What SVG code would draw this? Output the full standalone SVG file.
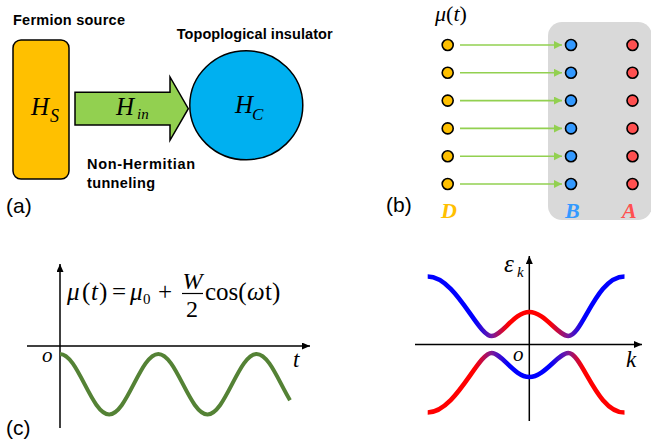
<svg xmlns="http://www.w3.org/2000/svg" width="651" height="447" viewBox="0 0 651 447">
<style>
.lbl{font-family:"Liberation Sans",Arial,sans-serif;font-weight:bold;font-size:14.5px;fill:#000}
.pan{font-family:"Liberation Sans",Arial,sans-serif;font-size:21px;fill:#000}
.m{font-family:"Liberation Serif","Times New Roman",serif;fill:#000}
.it{font-style:italic}
.ax{stroke:#000;stroke-width:1.5;fill:none}
.dot{stroke:#000;stroke-width:1.6}
.tun{stroke:#92D050;stroke-width:1.6;fill:none}
.band{fill:none;stroke-width:4.6}
.sl{font-family:"Liberation Serif","Times New Roman",serif;font-style:italic;font-weight:bold;font-size:22px}
</style>
<defs>
<marker id="ga" markerUnits="userSpaceOnUse" markerWidth="9" markerHeight="9" refX="8" refY="4" orient="auto">
<path d="M0,0 L8,4 L0,8 z" fill="#92D050"/>
</marker>
<marker id="ka" markerUnits="userSpaceOnUse" markerWidth="9" markerHeight="8" refX="8" refY="3.5" orient="auto">
<path d="M0,0 L8,3.5 L0,7 z" fill="#000"/>
</marker>
<linearGradient id="gUp" gradientUnits="userSpaceOnUse" x1="427" y1="0" x2="625" y2="0">
<stop offset="0" stop-color="#0000FF"/>
<stop offset="0.24" stop-color="#0000FF"/>
<stop offset="0.33" stop-color="#7A1A9A"/>
<stop offset="0.41" stop-color="#FF0000"/>
<stop offset="0.62" stop-color="#FF0000"/>
<stop offset="0.71" stop-color="#7A1A9A"/>
<stop offset="0.79" stop-color="#0000FF"/>
<stop offset="1" stop-color="#0000FF"/>
</linearGradient>
<linearGradient id="gDn" gradientUnits="userSpaceOnUse" x1="427" y1="0" x2="625" y2="0">
<stop offset="0" stop-color="#FF0000"/>
<stop offset="0.24" stop-color="#FF0000"/>
<stop offset="0.33" stop-color="#7A1A9A"/>
<stop offset="0.41" stop-color="#0000FF"/>
<stop offset="0.62" stop-color="#0000FF"/>
<stop offset="0.71" stop-color="#7A1A9A"/>
<stop offset="0.79" stop-color="#FF0000"/>
<stop offset="1" stop-color="#FF0000"/>
</linearGradient>
</defs>

<!-- Panel (a) -->
<g id="fermion-source">
<rect x="13" y="40" width="56" height="139" rx="8" fill="#FFC000" stroke="#000" stroke-width="1.5"/>
<text class="m it" x="31" y="115" font-size="25">H</text>
<text class="m it" x="50" y="121.5" font-size="18">S</text>
<text class="lbl" x="13" y="25" textLength="112">Fermion source</text>
</g>
<g id="tunneling">
<polygon points="75,92.3 170,92.3 170,77 188.3,108.7 170,140.3 170,125 75,125" fill="#92D050" stroke="#000" stroke-width="1.5"/>
<text class="m it" x="116" y="115" font-size="25">H</text>
<text class="m it" x="137" y="119" font-size="15">in</text>
<text class="lbl" x="87" y="169" textLength="108">Non-Hermitian</text>
<text class="lbl" x="87" y="187.5" textLength="68">tunneling</text>
</g>
<g id="insulator">
<ellipse cx="246.3" cy="105.3" rx="56.5" ry="54.5" fill="#00B0F0" stroke="#000" stroke-width="1.5"/>
<text class="m it" x="235" y="113" font-size="25">H</text>
<text class="m it" x="252" y="120" font-size="17">C</text>
<text class="lbl" x="176.7" y="39" textLength="156">Topoplogical insulator</text>
</g>
<text class="pan" x="6" y="213">(a)</text>

<!-- Panel (b) -->
<g id="lattice-box">
<rect x="548" y="22" width="104" height="198" rx="14" fill="#D9D9D9"/>
</g>
<text class="m" x="435" y="21" font-size="22"><tspan class="it">μ</tspan>(<tspan class="it">t</tspan>)</text>
<g id="connectors">
<line class="tun" x1="460" y1="45" x2="562" y2="45" marker-end="url(#ga)"/>
<line class="tun" x1="460" y1="72.8" x2="562" y2="72.8" marker-end="url(#ga)"/>
<line class="tun" x1="460" y1="100.6" x2="562" y2="100.6" marker-end="url(#ga)"/>
<line class="tun" x1="460" y1="128.4" x2="562" y2="128.4" marker-end="url(#ga)"/>
<line class="tun" x1="460" y1="156.2" x2="562" y2="156.2" marker-end="url(#ga)"/>
<line class="tun" x1="460" y1="184" x2="562" y2="184" marker-end="url(#ga)"/>
</g>
<g id="sites-D" fill="#FFC000">
<circle class="dot" cx="447.7" cy="45" r="5.5"/>
<circle class="dot" cx="447.7" cy="72.8" r="5.5"/>
<circle class="dot" cx="447.7" cy="100.6" r="5.5"/>
<circle class="dot" cx="447.7" cy="128.4" r="5.5"/>
<circle class="dot" cx="447.7" cy="156.2" r="5.5"/>
<circle class="dot" cx="447.7" cy="184" r="5.5"/>
<text class="sl" x="441" y="218" style="fill:#FFC000">D</text>
</g>
<g id="sites-B" fill="#3399FF">
<circle class="dot" cx="571" cy="45" r="5.5"/>
<circle class="dot" cx="571" cy="72.8" r="5.5"/>
<circle class="dot" cx="571" cy="100.6" r="5.5"/>
<circle class="dot" cx="571" cy="128.4" r="5.5"/>
<circle class="dot" cx="571" cy="156.2" r="5.5"/>
<circle class="dot" cx="571" cy="184" r="5.5"/>
<text class="sl" x="565" y="218" style="fill:#3399FF">B</text>
</g>
<g id="sites-A" fill="#FF5050">
<circle class="dot" cx="632.5" cy="45" r="5.5"/>
<circle class="dot" cx="632.5" cy="72.8" r="5.5"/>
<circle class="dot" cx="632.5" cy="100.6" r="5.5"/>
<circle class="dot" cx="632.5" cy="128.4" r="5.5"/>
<circle class="dot" cx="632.5" cy="156.2" r="5.5"/>
<circle class="dot" cx="632.5" cy="184" r="5.5"/>
<text class="sl" x="622" y="218" style="fill:#FF5050">A</text>
</g>
<text class="pan" x="386" y="212">(b)</text>

<!-- Panel (c) -->
<g id="plot-c">
<line class="ax" x1="60" y1="428" x2="60" y2="264" marker-end="url(#ka)"/>
<line class="ax" x1="27" y1="346" x2="310" y2="346" marker-end="url(#ka)"/>
<path d="M60,354 C77.87,354 91.3,414.4 109.17,414.4 C127.04,414.4 140.46,354 158.33,354 C176.2,354 189.63,414.4 207.5,414.4 C225.37,414.4 238.8,354 256.67,354 C268.91,354 279.06,382.34 289.99,400.2" fill="none" stroke="#548235" stroke-width="4"/>
<text class="m it" x="42" y="362" font-size="21">o</text>
<text class="m it" x="293" y="367" font-size="23">t</text>
<text class="m it" x="67" y="300" font-size="25">μ</text>
<text class="m" x="82" y="300" font-size="25">(</text>
<text class="m it" x="91" y="300" font-size="25">t</text>
<text class="m" x="99" y="300" font-size="25">)</text>
<text class="m" x="112" y="300" font-size="25">=</text>
<text class="m it" x="130" y="300" font-size="25">μ</text>
<text class="m" x="143" y="304" font-size="15">0</text>
<text class="m" x="158" y="300" font-size="25">+</text>
<text class="m it" x="192.5" y="289" font-size="24" text-anchor="middle">W</text>
<line x1="182" y1="293.5" x2="203" y2="293.5" stroke="#000" stroke-width="1.2"/>
<text class="m" x="192" y="317" font-size="24" text-anchor="middle">2</text>
<text class="m" x="205" y="300" font-size="25">cos(</text>
<text class="m it" x="247" y="300" font-size="25">ω</text>
<text class="m" x="265" y="300" font-size="25">t)</text>
</g>
<text class="pan" x="6" y="435">(c)</text>

<!-- Panel (d) -->
<g id="plot-d">
<line class="ax" x1="529.3" y1="421" x2="529.3" y2="256" marker-end="url(#ka)"/>
<line class="ax" x1="415" y1="344.5" x2="642" y2="344.5" marker-end="url(#ka)"/>
<path class="band" stroke="url(#gUp)" d="M427.7,276.5 C455.7,276.5 477.7,336 491.7,336 C501.7,336 514.3,312 529.3,312 C544.3,312 558.3,336 568.3,336 C582.3,336 596.3,276.5 624.5,276.5"/>
<path class="band" stroke="url(#gDn)" d="M427.7,412.5 C455.7,412.5 477.7,353 491.7,353 C501.7,353 514.3,377 529.3,377 C544.3,377 558.3,353 568.3,353 C582.3,353 596.3,412.5 624.5,412.5"/>
<text class="m it" x="504" y="272" font-size="25">ε</text>
<text class="m it" x="517" y="277" font-size="15">k</text>
<text class="m it" x="513" y="361" font-size="21">o</text>
<text class="m it" x="626" y="367" font-size="23">k</text>
</g>
</svg>
